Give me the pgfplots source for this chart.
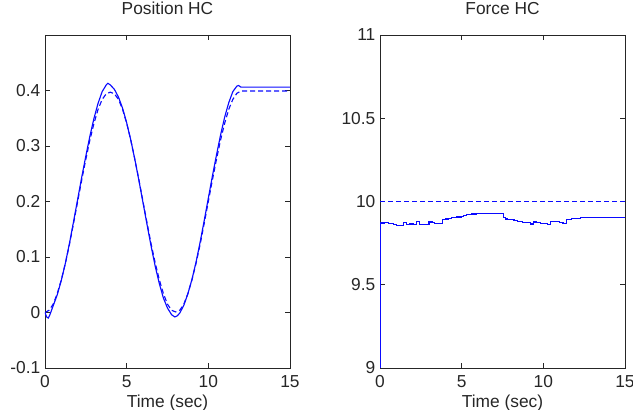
\documentclass[border=0pt]{standalone}
\usepackage{pgfplots}
\pgfplotsset{compat=1.18}
\usepackage{fontspec}
\setmainfont{Liberation Sans}
\definecolor{mblue}{RGB}{10,10,255}
\pgfplotsset{
  mstyle/.style={
    scale only axis,
    width=183.75pt, height=249.75pt,
    xmin=0, xmax=15,
    xtick={0,5,10,15},
    tick align=inside,
    major tick length=3.75pt,
    axis line style={line width=0.6pt, black!85},
    every tick/.style={black!85, line width=0.6pt},
    /pgf/number format/assume math mode=true,
    every tick label/.append style={font=\fontsize{13}{15}\selectfont, text=black!85},
    xticklabel style={anchor=base, yshift=-15pt},
    title style={at={(axis description cs:0.5,1)}, anchor=base, yshift=9pt, font=\fontsize{13}{15}\selectfont, text=black!85},
    xlabel style={at={(axis description cs:0.5,0)}, anchor=base, yshift=-30pt, font=\fontsize{13}{15}\selectfont, text=black!85},
    xlabel={Time (sec)},
  }
}
\begin{document}
\begin{tikzpicture}
\useasboundingbox (-33.75pt,-31.5pt) rectangle (441pt,276pt);
\begin{axis}[mstyle, at={(0pt,0pt)}, anchor=south west,
  ymin=-0.1, ymax=0.5, ytick={-0.1,0,0.1,0.2,0.3,0.4},
  yticklabels={-0.1,0,0.1,0.2,0.3,0.4},
  title={Position HC}]
\addplot[color=mblue, line width=0.85pt, dash pattern=on 3.75pt off 2.25pt] coordinates {
(0,0) (0.25,0.004) (0.5,0.015) (0.75,0.034) (1,0.059) (1.25,0.089) (1.5,0.123) (1.75,0.161)
(2,0.200) (2.25,0.239) (2.5,0.276) (2.75,0.311) (3,0.341) (3.25,0.366) (3.5,0.384) (3.75,0.394)
(4,0.397) (4.25,0.394) (4.5,0.384) (4.75,0.366) (5,0.341) (5.25,0.311) (5.5,0.276) (5.75,0.239)
(6,0.200) (6.25,0.161) (6.5,0.123) (6.75,0.089) (7,0.059) (7.25,0.034) (7.5,0.015) (7.75,0.004)
(8,0.001) (8.25,0.004) (8.5,0.015) (8.75,0.034) (9,0.059) (9.25,0.089) (9.5,0.123) (9.75,0.161)
(10,0.200) (10.25,0.239) (10.5,0.276) (10.75,0.311) (11,0.341) (11.25,0.366) (11.5,0.384) (11.75,0.395)
(12,0.399) (15,0.399)
};
\addplot[color=mblue, line width=0.85pt] coordinates {
(0,0) (0.1,-0.008) (0.2,-0.010) (0.3,-0.004) (0.5,0.012) (0.75,0.032) (1,0.058) (1.25,0.089)
(1.5,0.125) (1.75,0.164) (2,0.204) (2.25,0.244) (2.5,0.282) (2.75,0.318) (3,0.350) (3.25,0.377)
(3.5,0.398) (3.75,0.410) (3.85,0.413) (4,0.410) (4.25,0.402) (4.5,0.388) (4.75,0.368) (5,0.342)
(5.25,0.311) (5.5,0.276) (5.75,0.238) (6,0.198) (6.25,0.158) (6.5,0.119) (6.75,0.083) (7,0.052)
(7.25,0.026) (7.5,0.008) (7.75,-0.004) (7.95,-0.008) (8.1,-0.006) (8.25,-0.001) (8.5,0.013)
(8.75,0.034) (9,0.060) (9.25,0.091) (9.5,0.127) (9.75,0.166) (10,0.206) (10.25,0.246)
(10.5,0.284) (10.75,0.320) (11,0.352) (11.25,0.378) (11.5,0.398) (11.75,0.408) (11.85,0.409)
(12,0.406) (15,0.406)
};
\end{axis}
\begin{axis}[mstyle, at={(251.25pt,0pt)}, anchor=south west,
  ymin=9, ymax=11, ytick={9,9.5,10,10.5,11},
  yticklabels={9,9.5,10,10.5,11},
  title={Force HC}]
\addplot[color=mblue, line width=0.85pt, dash pattern=on 3.75pt off 2.25pt] coordinates {(0,10) (15,10)};
\addplot[color=mblue, line width=0.85pt, const plot] coordinates {
(0,9.0) (0,9.84) (0.05,9.871) (0.3,9.875) (0.5,9.868) (0.7,9.866) (0.85,9.86) (1.0,9.857)
(1.3,9.858) (1.43,9.872) (1.6,9.863) (1.8,9.865) (2.05,9.862) (2.25,9.88) (2.4,9.863)
(2.6,9.861) (2.9,9.864) (3.0,9.877) (3.2,9.875) (3.35,9.87) (3.55,9.868) (3.7,9.866)
(3.85,9.89) (4.0,9.895) (4.2,9.9) (4.4,9.905) (4.7,9.907) (5.0,9.912) (5.1,9.917)
(5.3,9.922) (5.6,9.925) (5.9,9.926) (6.2,9.927) (6.4,9.929) (6.8,9.929) (7.1,9.928)
(7.3,9.93) (7.55,9.905) (7.7,9.895) (7.8,9.89) (8.2,9.885) (8.4,9.878) (8.7,9.876)
(9.0,9.874) (9.2,9.865) (9.4,9.877) (9.6,9.874) (9.8,9.87) (10.1,9.868) (10.25,9.861)
(10.45,9.88) (10.7,9.878) (11.0,9.876) (11.2,9.87) (11.4,9.891) (11.7,9.897) (12.1,9.898)
(12.3,9.903) (12.8,9.902) (13.3,9.904) (13.5,9.905) (14.0,9.904) (14.5,9.906) (15,9.906)
};
\end{axis}
\end{tikzpicture}
\end{document}
